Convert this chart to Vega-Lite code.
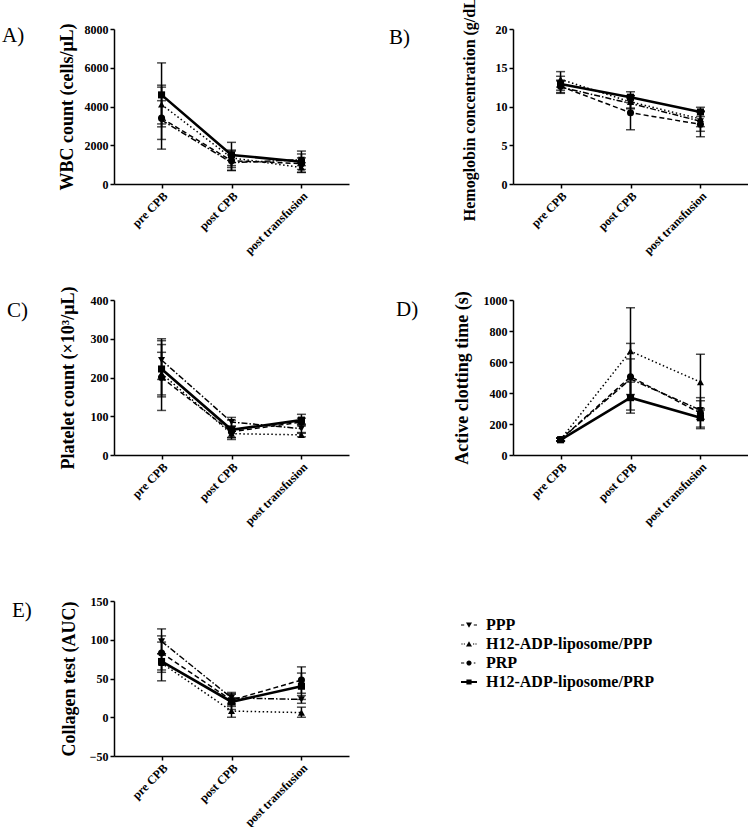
{
"$schema": "https://vega.github.io/schema/vega-lite/v6.json",
"padding": {"left": 2, "top": -10, "right": 0, "bottom": 0},
"config": {
 "view": {"stroke": null},
 "font": "Liberation Serif",
 "numberFormat": "d",
 "axis": {"grid": false, "domainColor": "black", "domainWidth": 1.5, "tickColor": "black", "tickWidth": 1.5, "tickSize": 4, "labelFont": "Liberation Serif", "labelFontWeight": "bold", "labelFontSize": 12, "labelColor": "black", "labelPadding": 2, "titleFont": "Liberation Serif", "titleFontWeight": "bold", "titleFontSize": 18, "titleColor": "black"},
 "axisX": {"title": null, "labelAngle": -45},
 "axisY": {"format": "d"},
 "title": {"font": "Liberation Serif", "fontSize": 21, "fontWeight": "normal", "color": "black", "anchor": "start", "frame": "group", "offset": 0}
},
"datasets": {
 "wbc": [
  {"series": "PPP", "time": "pre CPB", "mean": 3300, "lo": 2300, "hi": 4300},
  {"series": "PPP", "time": "post CPB", "mean": 1100, "lo": 700, "hi": 1500},
  {"series": "PPP", "time": "post transfusion", "mean": 1250, "lo": 950, "hi": 1550},
  {"series": "H12-ADP-liposome/PPP", "time": "pre CPB", "mean": 4100, "lo": 3100, "hi": 5100},
  {"series": "H12-ADP-liposome/PPP", "time": "post CPB", "mean": 1350, "lo": 950, "hi": 1750},
  {"series": "H12-ADP-liposome/PPP", "time": "post transfusion", "mean": 850, "lo": 600, "hi": 1100},
  {"series": "PRP", "time": "pre CPB", "mean": 3400, "lo": 1800, "hi": 5000},
  {"series": "PRP", "time": "post CPB", "mean": 1200, "lo": 700, "hi": 1700},
  {"series": "PRP", "time": "post transfusion", "mean": 1050, "lo": 750, "hi": 1350},
  {"series": "H12-ADP-liposome/PRP", "time": "pre CPB", "mean": 4600, "lo": 2950, "hi": 6250},
  {"series": "H12-ADP-liposome/PRP", "time": "post CPB", "mean": 1500, "lo": 850, "hi": 2150},
  {"series": "H12-ADP-liposome/PRP", "time": "post transfusion", "mean": 1150, "lo": 600, "hi": 1700}
 ],
 "hb": [
  {"series": "PPP", "time": "pre CPB", "mean": 12.5, "lo": 11.7, "hi": 13.3},
  {"series": "PPP", "time": "post CPB", "mean": 10.4, "lo": 9.7, "hi": 11.1},
  {"series": "PPP", "time": "post transfusion", "mean": 8.1, "lo": 6.8, "hi": 9.4},
  {"series": "H12-ADP-liposome/PPP", "time": "pre CPB", "mean": 13.5, "lo": 12.5, "hi": 14.5},
  {"series": "H12-ADP-liposome/PPP", "time": "post CPB", "mean": 10.6, "lo": 9.8, "hi": 11.4},
  {"series": "H12-ADP-liposome/PPP", "time": "post transfusion", "mean": 8.4, "lo": 7.4, "hi": 9.4},
  {"series": "PRP", "time": "pre CPB", "mean": 12.6, "lo": 11.8, "hi": 13.4},
  {"series": "PRP", "time": "post CPB", "mean": 9.2, "lo": 7.0, "hi": 11.4},
  {"series": "PRP", "time": "post transfusion", "mean": 7.7, "lo": 6.1, "hi": 9.3},
  {"series": "H12-ADP-liposome/PRP", "time": "pre CPB", "mean": 12.9, "lo": 12.1, "hi": 13.9},
  {"series": "H12-ADP-liposome/PRP", "time": "post CPB", "mean": 11.2, "lo": 10.5, "hi": 11.9},
  {"series": "H12-ADP-liposome/PRP", "time": "post transfusion", "mean": 9.3, "lo": 8.7, "hi": 9.9}
 ],
 "plt": [
  {"series": "PPP", "time": "pre CPB", "mean": 245, "lo": 195, "hi": 295},
  {"series": "PPP", "time": "post CPB", "mean": 85, "lo": 73, "hi": 97},
  {"series": "PPP", "time": "post transfusion", "mean": 68, "lo": 56, "hi": 80},
  {"series": "H12-ADP-liposome/PPP", "time": "pre CPB", "mean": 210, "lo": 155, "hi": 265},
  {"series": "H12-ADP-liposome/PPP", "time": "post CPB", "mean": 55, "lo": 45, "hi": 65},
  {"series": "H12-ADP-liposome/PPP", "time": "post transfusion", "mean": 52, "lo": 47, "hi": 58},
  {"series": "PRP", "time": "pre CPB", "mean": 200, "lo": 115, "hi": 285},
  {"series": "PRP", "time": "post CPB", "mean": 60, "lo": 45, "hi": 75},
  {"series": "PRP", "time": "post transfusion", "mean": 85, "lo": 75, "hi": 95},
  {"series": "H12-ADP-liposome/PRP", "time": "pre CPB", "mean": 222, "lo": 150, "hi": 300},
  {"series": "H12-ADP-liposome/PRP", "time": "post CPB", "mean": 65, "lo": 40, "hi": 90},
  {"series": "H12-ADP-liposome/PRP", "time": "post transfusion", "mean": 90, "lo": 78, "hi": 105}
 ],
 "act": [
  {"series": "PPP", "time": "pre CPB", "mean": 100, "lo": 90, "hi": 110},
  {"series": "PPP", "time": "post CPB", "mean": 490, "lo": 360, "hi": 620},
  {"series": "PPP", "time": "post transfusion", "mean": 290, "lo": 230, "hi": 350},
  {"series": "H12-ADP-liposome/PPP", "time": "pre CPB", "mean": 100, "lo": 92, "hi": 108},
  {"series": "H12-ADP-liposome/PPP", "time": "post CPB", "mean": 670, "lo": 390, "hi": 950},
  {"series": "H12-ADP-liposome/PPP", "time": "post transfusion", "mean": 470, "lo": 290, "hi": 650},
  {"series": "PRP", "time": "pre CPB", "mean": 100, "lo": 90, "hi": 110},
  {"series": "PRP", "time": "post CPB", "mean": 505, "lo": 290, "hi": 720},
  {"series": "PRP", "time": "post transfusion", "mean": 270, "lo": 170, "hi": 370},
  {"series": "H12-ADP-liposome/PRP", "time": "pre CPB", "mean": 98, "lo": 88, "hi": 108},
  {"series": "H12-ADP-liposome/PRP", "time": "post CPB", "mean": 370, "lo": 270, "hi": 470},
  {"series": "H12-ADP-liposome/PRP", "time": "post transfusion", "mean": 240, "lo": 180, "hi": 300}
 ],
 "col": [
  {"series": "PPP", "time": "pre CPB", "mean": 98, "lo": 82, "hi": 114},
  {"series": "PPP", "time": "post CPB", "mean": 25, "lo": 18, "hi": 32},
  {"series": "PPP", "time": "post transfusion", "mean": 23, "lo": 18, "hi": 28},
  {"series": "H12-ADP-liposome/PPP", "time": "pre CPB", "mean": 70, "lo": 58, "hi": 82},
  {"series": "H12-ADP-liposome/PPP", "time": "post CPB", "mean": 8, "lo": 0, "hi": 16},
  {"series": "H12-ADP-liposome/PPP", "time": "post transfusion", "mean": 6, "lo": 0, "hi": 13},
  {"series": "PRP", "time": "pre CPB", "mean": 83, "lo": 61, "hi": 105},
  {"series": "PRP", "time": "post CPB", "mean": 22, "lo": 14, "hi": 30},
  {"series": "PRP", "time": "post transfusion", "mean": 48, "lo": 31, "hi": 65},
  {"series": "H12-ADP-liposome/PRP", "time": "pre CPB", "mean": 72, "lo": 47, "hi": 97},
  {"series": "H12-ADP-liposome/PRP", "time": "post CPB", "mean": 20, "lo": 10, "hi": 30},
  {"series": "H12-ADP-liposome/PRP", "time": "post transfusion", "mean": 40, "lo": 23, "hi": 57}
 ]
},
"vconcat": [
 {"vconcat": [
  {"hconcat": [
   {"width": 235, "height": 155, "data": {"name": "wbc"},
    "title": {"text": "A)", "dx": -112, "dy": 27},
    "encoding": {"x": {"field": "time", "type": "ordinal", "sort": ["pre CPB", "post CPB", "post transfusion"], "scale": {"type": "point", "padding": 0.68}}},
    "layer": [
     {"mark": {"type": "rule", "color": "black", "strokeWidth": 1.5}, "encoding": {"y": {"field": "lo", "type": "quantitative", "title": "WBC count (cells/μL)", "scale": {"domain": [0, 8000], "nice": false}, "axis": {"values": [0, 2000, 4000, 6000, 8000], "format": "d", "titlePadding": 8}}, "y2": {"field": "hi"}}},
     {"mark": {"type": "tick", "color": "black", "thickness": 1.5, "size": 9}, "encoding": {"y": {"field": "lo", "type": "quantitative", "title": "WBC count (cells/μL)", "scale": {"domain": [0, 8000], "nice": false}, "axis": {"values": [0, 2000, 4000, 6000, 8000], "format": "d", "titlePadding": 8}}}},
     {"mark": {"type": "tick", "color": "black", "thickness": 1.5, "size": 9}, "encoding": {"y": {"field": "hi", "type": "quantitative", "title": "WBC count (cells/μL)", "scale": {"domain": [0, 8000], "nice": false}, "axis": {"values": [0, 2000, 4000, 6000, 8000], "format": "d", "titlePadding": 8}}}},
     {"transform": [{"filter": "datum.series != 'H12-ADP-liposome/PRP'"}], "mark": {"type": "line", "color": "black", "strokeWidth": 1.5}, "encoding": {"y": {"field": "mean", "type": "quantitative", "title": "WBC count (cells/μL)", "scale": {"domain": [0, 8000], "nice": false}, "axis": {"values": [0, 2000, 4000, 6000, 8000], "format": "d", "titlePadding": 8}}, "strokeDash": {"field": "series", "type": "nominal", "scale": {"domain": ["PPP", "H12-ADP-liposome/PPP", "PRP", "H12-ADP-liposome/PRP"], "range": [[6, 2, 1.5, 2], [1.5, 2.5], [5, 3], [1, 0]]}, "legend": null}}},
     {"transform": [{"filter": "datum.series == 'H12-ADP-liposome/PRP'"}], "mark": {"type": "line", "color": "black", "strokeWidth": 2.6}, "encoding": {"y": {"field": "mean", "type": "quantitative", "title": "WBC count (cells/μL)", "scale": {"domain": [0, 8000], "nice": false}, "axis": {"values": [0, 2000, 4000, 6000, 8000], "format": "d", "titlePadding": 8}}}},
     {"mark": {"type": "point", "filled": true, "color": "black", "opacity": 1, "size": 50}, "encoding": {"y": {"field": "mean", "type": "quantitative", "title": "WBC count (cells/μL)", "scale": {"domain": [0, 8000], "nice": false}, "axis": {"values": [0, 2000, 4000, 6000, 8000], "format": "d", "titlePadding": 8}}, "shape": {"field": "series", "type": "nominal", "scale": {"domain": ["PPP", "H12-ADP-liposome/PPP", "PRP", "H12-ADP-liposome/PRP"], "range": ["triangle-down", "triangle-up", "circle", "square"]}, "legend": null}}}
    ]},
   {"width": 235, "height": 155, "data": {"name": "hb"},
    "title": {"text": "B)", "dx": -124, "dy": 62},
    "encoding": {"x": {"field": "time", "type": "ordinal", "sort": ["pre CPB", "post CPB", "post transfusion"], "scale": {"type": "point", "padding": 0.68}}},
    "layer": [
     {"mark": {"type": "rule", "color": "black", "strokeWidth": 1.5}, "encoding": {"y": {"field": "lo", "type": "quantitative", "title": "Hemoglobin  concentration (g/dL)", "scale": {"domain": [0, 20], "nice": false}, "axis": {"values": [0, 5, 10, 15, 20], "format": "d", "titlePadding": 18, "titleFontSize": 16}}, "y2": {"field": "hi"}}},
     {"mark": {"type": "tick", "color": "black", "thickness": 1.5, "size": 9}, "encoding": {"y": {"field": "lo", "type": "quantitative", "title": "Hemoglobin  concentration (g/dL)", "scale": {"domain": [0, 20], "nice": false}, "axis": {"values": [0, 5, 10, 15, 20], "format": "d", "titlePadding": 18, "titleFontSize": 16}}}},
     {"mark": {"type": "tick", "color": "black", "thickness": 1.5, "size": 9}, "encoding": {"y": {"field": "hi", "type": "quantitative", "title": "Hemoglobin  concentration (g/dL)", "scale": {"domain": [0, 20], "nice": false}, "axis": {"values": [0, 5, 10, 15, 20], "format": "d", "titlePadding": 18, "titleFontSize": 16}}}},
     {"transform": [{"filter": "datum.series != 'H12-ADP-liposome/PRP'"}], "mark": {"type": "line", "color": "black", "strokeWidth": 1.5}, "encoding": {"y": {"field": "mean", "type": "quantitative", "title": "Hemoglobin  concentration (g/dL)", "scale": {"domain": [0, 20], "nice": false}, "axis": {"values": [0, 5, 10, 15, 20], "format": "d", "titlePadding": 18, "titleFontSize": 16}}, "strokeDash": {"field": "series", "type": "nominal", "scale": {"domain": ["PPP", "H12-ADP-liposome/PPP", "PRP", "H12-ADP-liposome/PRP"], "range": [[6, 2, 1.5, 2], [1.5, 2.5], [5, 3], [1, 0]]}, "legend": null}}},
     {"transform": [{"filter": "datum.series == 'H12-ADP-liposome/PRP'"}], "mark": {"type": "line", "color": "black", "strokeWidth": 2.6}, "encoding": {"y": {"field": "mean", "type": "quantitative", "title": "Hemoglobin  concentration (g/dL)", "scale": {"domain": [0, 20], "nice": false}, "axis": {"values": [0, 5, 10, 15, 20], "format": "d", "titlePadding": 18, "titleFontSize": 16}}}},
     {"mark": {"type": "point", "filled": true, "color": "black", "opacity": 1, "size": 50}, "encoding": {"y": {"field": "mean", "type": "quantitative", "title": "Hemoglobin  concentration (g/dL)", "scale": {"domain": [0, 20], "nice": false}, "axis": {"values": [0, 5, 10, 15, 20], "format": "d", "titlePadding": 18, "titleFontSize": 16}}, "shape": {"field": "series", "type": "nominal", "scale": {"domain": ["PPP", "H12-ADP-liposome/PPP", "PRP", "H12-ADP-liposome/PRP"], "range": ["triangle-down", "triangle-up", "circle", "square"]}, "legend": null}}}
    ]}
  ], "spacing": 164, "bounds": "flush"},
  {"hconcat": [
   {"width": 235, "height": 155, "data": {"name": "plt"},
    "title": {"text": "C)", "dx": -107, "dy": 39},
    "encoding": {"x": {"field": "time", "type": "ordinal", "sort": ["pre CPB", "post CPB", "post transfusion"], "scale": {"type": "point", "padding": 0.68}}},
    "layer": [
     {"mark": {"type": "rule", "color": "black", "strokeWidth": 1.5}, "encoding": {"y": {"field": "lo", "type": "quantitative", "title": "Platelet count (×10³/μL)", "scale": {"domain": [0, 400], "nice": false}, "axis": {"values": [0, 100, 200, 300, 400], "format": "d", "titlePadding": 13}}, "y2": {"field": "hi"}}},
     {"mark": {"type": "tick", "color": "black", "thickness": 1.5, "size": 9}, "encoding": {"y": {"field": "lo", "type": "quantitative", "title": "Platelet count (×10³/μL)", "scale": {"domain": [0, 400], "nice": false}, "axis": {"values": [0, 100, 200, 300, 400], "format": "d", "titlePadding": 13}}}},
     {"mark": {"type": "tick", "color": "black", "thickness": 1.5, "size": 9}, "encoding": {"y": {"field": "hi", "type": "quantitative", "title": "Platelet count (×10³/μL)", "scale": {"domain": [0, 400], "nice": false}, "axis": {"values": [0, 100, 200, 300, 400], "format": "d", "titlePadding": 13}}}},
     {"transform": [{"filter": "datum.series != 'H12-ADP-liposome/PRP'"}], "mark": {"type": "line", "color": "black", "strokeWidth": 1.5}, "encoding": {"y": {"field": "mean", "type": "quantitative", "title": "Platelet count (×10³/μL)", "scale": {"domain": [0, 400], "nice": false}, "axis": {"values": [0, 100, 200, 300, 400], "format": "d", "titlePadding": 13}}, "strokeDash": {"field": "series", "type": "nominal", "scale": {"domain": ["PPP", "H12-ADP-liposome/PPP", "PRP", "H12-ADP-liposome/PRP"], "range": [[6, 2, 1.5, 2], [1.5, 2.5], [5, 3], [1, 0]]}, "legend": null}}},
     {"transform": [{"filter": "datum.series == 'H12-ADP-liposome/PRP'"}], "mark": {"type": "line", "color": "black", "strokeWidth": 2.6}, "encoding": {"y": {"field": "mean", "type": "quantitative", "title": "Platelet count (×10³/μL)", "scale": {"domain": [0, 400], "nice": false}, "axis": {"values": [0, 100, 200, 300, 400], "format": "d", "titlePadding": 13}}}},
     {"mark": {"type": "point", "filled": true, "color": "black", "opacity": 1, "size": 50}, "encoding": {"y": {"field": "mean", "type": "quantitative", "title": "Platelet count (×10³/μL)", "scale": {"domain": [0, 400], "nice": false}, "axis": {"values": [0, 100, 200, 300, 400], "format": "d", "titlePadding": 13}}, "shape": {"field": "series", "type": "nominal", "scale": {"domain": ["PPP", "H12-ADP-liposome/PPP", "PRP", "H12-ADP-liposome/PRP"], "range": ["triangle-down", "triangle-up", "circle", "square"]}, "legend": null}}}
    ]},
   {"width": 235, "height": 155, "data": {"name": "act"},
    "title": {"text": "D)", "dx": -117, "dy": 33},
    "encoding": {"x": {"field": "time", "type": "ordinal", "sort": ["pre CPB", "post CPB", "post transfusion"], "scale": {"type": "point", "padding": 0.68}}},
    "layer": [
     {"mark": {"type": "rule", "color": "black", "strokeWidth": 1.5}, "encoding": {"y": {"field": "lo", "type": "quantitative", "title": "Active clotting time (s)", "scale": {"domain": [0, 1000], "nice": false}, "axis": {"values": [0, 200, 400, 600, 800, 1000], "format": "d", "titlePadding": 12}}, "y2": {"field": "hi"}}},
     {"mark": {"type": "tick", "color": "black", "thickness": 1.5, "size": 9}, "encoding": {"y": {"field": "lo", "type": "quantitative", "title": "Active clotting time (s)", "scale": {"domain": [0, 1000], "nice": false}, "axis": {"values": [0, 200, 400, 600, 800, 1000], "format": "d", "titlePadding": 12}}}},
     {"mark": {"type": "tick", "color": "black", "thickness": 1.5, "size": 9}, "encoding": {"y": {"field": "hi", "type": "quantitative", "title": "Active clotting time (s)", "scale": {"domain": [0, 1000], "nice": false}, "axis": {"values": [0, 200, 400, 600, 800, 1000], "format": "d", "titlePadding": 12}}}},
     {"transform": [{"filter": "datum.series != 'H12-ADP-liposome/PRP'"}], "mark": {"type": "line", "color": "black", "strokeWidth": 1.5}, "encoding": {"y": {"field": "mean", "type": "quantitative", "title": "Active clotting time (s)", "scale": {"domain": [0, 1000], "nice": false}, "axis": {"values": [0, 200, 400, 600, 800, 1000], "format": "d", "titlePadding": 12}}, "strokeDash": {"field": "series", "type": "nominal", "scale": {"domain": ["PPP", "H12-ADP-liposome/PPP", "PRP", "H12-ADP-liposome/PRP"], "range": [[6, 2, 1.5, 2], [1.5, 2.5], [5, 3], [1, 0]]}, "legend": null}}},
     {"transform": [{"filter": "datum.series == 'H12-ADP-liposome/PRP'"}], "mark": {"type": "line", "color": "black", "strokeWidth": 2.6}, "encoding": {"y": {"field": "mean", "type": "quantitative", "title": "Active clotting time (s)", "scale": {"domain": [0, 1000], "nice": false}, "axis": {"values": [0, 200, 400, 600, 800, 1000], "format": "d", "titlePadding": 12}}}},
     {"mark": {"type": "point", "filled": true, "color": "black", "opacity": 1, "size": 50}, "encoding": {"y": {"field": "mean", "type": "quantitative", "title": "Active clotting time (s)", "scale": {"domain": [0, 1000], "nice": false}, "axis": {"values": [0, 200, 400, 600, 800, 1000], "format": "d", "titlePadding": 12}}, "shape": {"field": "series", "type": "nominal", "scale": {"domain": ["PPP", "H12-ADP-liposome/PPP", "PRP", "H12-ADP-liposome/PRP"], "range": ["triangle-down", "triangle-up", "circle", "square"]}, "legend": null}}}
    ]}
  ], "spacing": 164, "bounds": "flush"}
 ], "spacing": 29},
 {"width": 235, "height": 155, "data": {"name": "col"},
  "title": {"text": "E)", "dx": -102, "dy": 30},
  "encoding": {"x": {"field": "time", "type": "ordinal", "sort": ["pre CPB", "post CPB", "post transfusion"], "scale": {"type": "point", "padding": 0.68}}},
  "resolve": {"scale": {"shape": "independent"}, "legend": {"shape": "independent"}},
  "layer": [
   {"mark": {"type": "rule", "color": "black", "strokeWidth": 1.5}, "encoding": {"y": {"field": "lo", "type": "quantitative", "title": "Collagen test (AUC)", "scale": {"domain": [-50, 150], "nice": false}, "axis": {"values": [-50, 0, 50, 100, 150], "format": "d", "titlePadding": 11}}, "y2": {"field": "hi"}}},
   {"mark": {"type": "tick", "color": "black", "thickness": 1.5, "size": 9}, "encoding": {"y": {"field": "lo", "type": "quantitative", "title": "Collagen test (AUC)", "scale": {"domain": [-50, 150], "nice": false}, "axis": {"values": [-50, 0, 50, 100, 150], "format": "d", "titlePadding": 11}}}},
   {"mark": {"type": "tick", "color": "black", "thickness": 1.5, "size": 9}, "encoding": {"y": {"field": "hi", "type": "quantitative", "title": "Collagen test (AUC)", "scale": {"domain": [-50, 150], "nice": false}, "axis": {"values": [-50, 0, 50, 100, 150], "format": "d", "titlePadding": 11}}}},
   {"transform": [{"filter": "datum.series != 'H12-ADP-liposome/PRP'"}], "mark": {"type": "line", "color": "black", "strokeWidth": 1.5}, "encoding": {"y": {"field": "mean", "type": "quantitative", "title": "Collagen test (AUC)", "scale": {"domain": [-50, 150], "nice": false}, "axis": {"values": [-50, 0, 50, 100, 150], "format": "d", "titlePadding": 11}}, "strokeDash": {"field": "series", "type": "nominal", "scale": {"domain": ["PPP", "H12-ADP-liposome/PPP", "PRP", "H12-ADP-liposome/PRP"], "range": [[6, 2, 1.5, 2], [1.5, 2.5], [5, 3], [1, 0]]}, "legend": null}}},
   {"transform": [{"filter": "datum.series == 'H12-ADP-liposome/PRP'"}], "mark": {"type": "line", "color": "black", "strokeWidth": 2.6}, "encoding": {"y": {"field": "mean", "type": "quantitative", "title": "Collagen test (AUC)", "scale": {"domain": [-50, 150], "nice": false}, "axis": {"values": [-50, 0, 50, 100, 150], "format": "d", "titlePadding": 11}}}},
   {"mark": {"type": "point", "filled": true, "color": "black", "opacity": 1, "size": 50}, "encoding": {"y": {"field": "mean", "type": "quantitative", "title": "Collagen test (AUC)", "scale": {"domain": [-50, 150], "nice": false}, "axis": {"values": [-50, 0, 50, 100, 150], "format": "d", "titlePadding": 11}}, "shape": {"field": "series", "type": "nominal", "scale": {"domain": ["PPP", "H12-ADP-liposome/PPP", "PRP", "H12-ADP-liposome/PRP"], "range": ["triangle-down", "triangle-up", "circle", "square"]}, "legend": null}}},
   {"transform": [{"filter": "false"}], "mark": {"type": "point", "filled": true, "color": "black", "opacity": 1},
    "encoding": {"shape": {"field": "series", "type": "nominal",
     "scale": {"domain": ["PPP", "H12-ADP-liposome/PPP", "PRP", "H12-ADP-liposome/PRP"],
      "range": ["M-2,-0.15H-1.2V0.15H-2Z M1.2,-0.15H2V0.15H1.2Z M-0.75,-0.6L0.75,-0.6L0,0.7Z",
                "M-1.9,-0.15H-1.6V0.15H-1.9Z M-1.3,-0.15H-1V0.15H-1.3Z M1,-0.15H1.3V0.15H1Z M1.6,-0.15H1.9V0.15H1.6Z M0,-0.7L0.75,0.6L-0.75,0.6Z",
                "M-2,-0.15H-1.2V0.15H-2Z M1.2,-0.15H1.6V0.15H1.2Z M-0.65,0A0.65,0.65 0 1,1 0.65,0A0.65,0.65 0 1,1 -0.65,0Z",
                "M-2,-0.28H2V0.28H-2Z M-0.65,-0.65H0.65V0.65H-0.65Z"]},
     "legend": {"orient": "none", "legendX": 347, "legendY": 16, "title": null, "padding": 0, "labelFont": "Liberation Serif", "labelFontWeight": "bold", "labelFontSize": 16, "labelColor": "black", "labelOffset": 9, "labelLimit": 400, "symbolSize": 64, "symbolFillColor": "black", "symbolStrokeWidth": 0, "symbolOpacity": 1, "rowPadding": 3}}}}
  ]}
],
"spacing": 67
}
